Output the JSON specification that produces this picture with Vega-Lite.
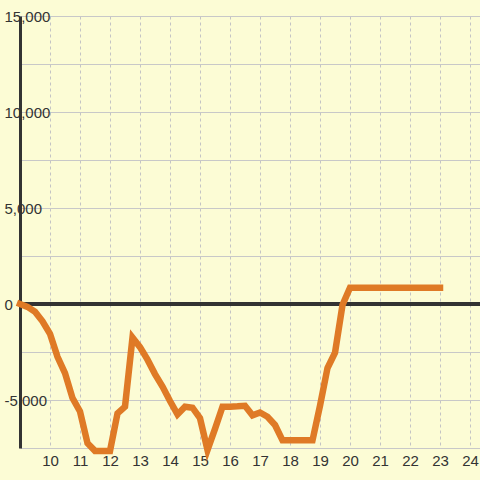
{
  "$schema": "https://vega.github.io/schema/vega-lite/v6.json",
  "width": 460,
  "height": 432,
  "autosize": {"type": "none"},
  "padding": {"left": 20, "top": 16, "right": 0, "bottom": 32},
  "background": "#fcfcd5",
  "config": {
    "view": {"stroke": null},
    "font": "Liberation Sans"
  },
  "data": {
    "values": [
      {"x": 9.0, "y": 0},
      {"x": 9.25, "y": -150},
      {"x": 9.5, "y": -400},
      {"x": 9.75, "y": -900},
      {"x": 10.0, "y": -1550},
      {"x": 10.25, "y": -2750},
      {"x": 10.5, "y": -3600},
      {"x": 10.75, "y": -4900},
      {"x": 11.0, "y": -5600},
      {"x": 11.25, "y": -7250},
      {"x": 11.5, "y": -7650},
      {"x": 11.75, "y": -7650},
      {"x": 12.0, "y": -7650},
      {"x": 12.25, "y": -5700},
      {"x": 12.5, "y": -5350},
      {"x": 12.75, "y": -1750},
      {"x": 13.0, "y": -2250},
      {"x": 13.25, "y": -2900},
      {"x": 13.5, "y": -3650},
      {"x": 13.75, "y": -4300},
      {"x": 14.0, "y": -5050},
      {"x": 14.25, "y": -5750},
      {"x": 14.5, "y": -5350},
      {"x": 14.75, "y": -5400},
      {"x": 15.0, "y": -5950},
      {"x": 15.25, "y": -7600},
      {"x": 15.5, "y": -6500},
      {"x": 15.75, "y": -5350},
      {"x": 16.0, "y": -5350},
      {"x": 16.25, "y": -5330},
      {"x": 16.5, "y": -5300},
      {"x": 16.75, "y": -5800},
      {"x": 17.0, "y": -5650},
      {"x": 17.25, "y": -5870},
      {"x": 17.5, "y": -6300},
      {"x": 17.75, "y": -7100},
      {"x": 18.0, "y": -7100},
      {"x": 18.25, "y": -7100},
      {"x": 18.5, "y": -7100},
      {"x": 18.75, "y": -7100},
      {"x": 19.0, "y": -5300},
      {"x": 19.25, "y": -3330},
      {"x": 19.5, "y": -2540},
      {"x": 19.75, "y": -50},
      {"x": 20.0, "y": 850},
      {"x": 20.25, "y": 850},
      {"x": 20.5, "y": 850},
      {"x": 20.75, "y": 850},
      {"x": 21.0, "y": 850},
      {"x": 21.25, "y": 850},
      {"x": 21.5, "y": 850},
      {"x": 21.75, "y": 850},
      {"x": 22.0, "y": 850},
      {"x": 22.25, "y": 850},
      {"x": 22.5, "y": 850},
      {"x": 22.75, "y": 850},
      {"x": 23.0, "y": 850}
    ]
  },
  "encoding": {
    "x": {
      "field": "x",
      "type": "quantitative",
      "scale": {"domain": [9, 24.3333], "nice": false, "zero": false},
      "axis": {
        "title": null,
        "orient": "bottom",
        "values": [10, 11, 12, 13, 14, 15, 16, 17, 18, 19, 20, 21, 22, 23, 24],
        "domain": false,
        "ticks": false,
        "grid": true,
        "gridColor": "#c4c4c4",
        "gridDash": [3, 3],
        "gridWidth": 1,
        "labelPadding": 5,
        "labelFontSize": 15,
        "labelColor": "#333333",
        "labelFont": "Liberation Sans"
      }
    },
    "y": {
      "field": "y",
      "type": "quantitative",
      "scale": {"domain": [-7500, 15000], "nice": false, "zero": false},
      "axis": {
        "title": null,
        "orient": "left",
        "values": [-7500, -5000, -2500, 0, 2500, 5000, 7500, 10000, 12500, 15000],
        "labelExpr": "datum.value % 5000 === 0 ? replace(datum.label, '\u2212', '-') : ''",
        "domain": true,
        "domainColor": "#333333",
        "domainWidth": 3,
        "ticks": false,
        "grid": true,
        "gridColor": "#c8c8c8",
        "gridWidth": 1,
        "labelAlign": "left",
        "labelBaseline": "middle",
        "labelPadding": 16,
        "labelFontSize": 15,
        "labelColor": "#333333",
        "labelFont": "Liberation Sans"
      }
    }
  },
  "layer": [
    {
      "mark": {"type": "rule", "color": "#333333", "strokeWidth": 3},
      "encoding": {"y": {"datum": 0}, "x": null}
    },
    {
      "mark": {"type": "line", "color": "#df7a26", "strokeWidth": 6.5, "strokeCap": "square", "strokeJoin": "miter"}
    }
  ]
}
